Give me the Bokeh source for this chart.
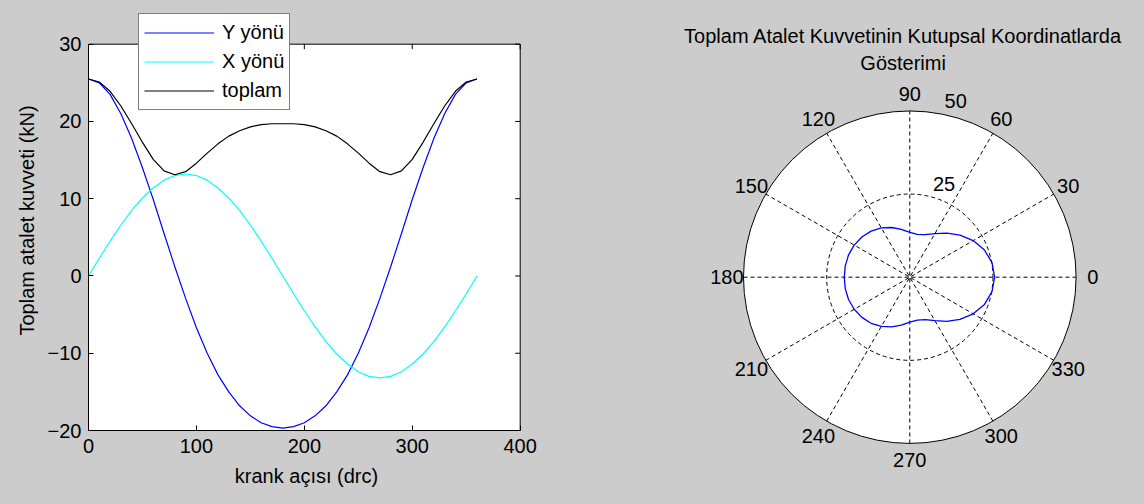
import numpy as np
from bokeh.plotting import figure
from bokeh.models import Range1d, FixedTicker, Legend, LegendItem, ColumnDataSource
from bokeh.layouts import row
from bokeh.embed import file_html
from bokeh.resources import INLINE
from bokeh.core.properties import value

# ---------------- data ----------------
krank_acisi = [0, 10, 20, 30, 40, 50, 60, 70, 80, 90, 100, 110, 120, 130, 140, 150, 160, 170, 180,
               190, 200, 210, 220, 230, 240, 250, 260, 270, 280, 290, 300, 310, 320, 330, 340, 350, 360]
y_yonu = [25.5, 25.0, 23.5, 21.0, 17.8, 14.0, 9.9, 5.5, 1.2, -2.9, -6.7, -10.0, -12.8, -15.0, -16.8, -18.1, -19.0, -19.5, -19.7,
          -19.5, -19.0, -18.1, -16.8, -15.0, -12.8, -10.0, -6.7, -2.9, 1.2, 5.5, 9.9, 14.0, 17.8, 21.0, 23.5, 25.0, 25.5]
x_yonu = [0.0, 2.3, 4.5, 6.6, 8.5, 10.1, 11.4, 12.4, 13.0, 13.2, 13.0, 12.4, 11.4, 10.1, 8.5, 6.6, 4.5, 2.3, 0.0,
          -2.3, -4.5, -6.6, -8.5, -10.1, -11.4, -12.4, -13.0, -13.2, -13.0, -12.4, -11.4, -10.1, -8.5, -6.6, -4.5, -2.3, 0.0]
toplam = [25.5, 25.1, 23.9, 22.0, 19.7, 17.3, 15.1, 13.6, 13.1, 13.5, 14.6, 15.9, 17.1, 18.1, 18.8, 19.3, 19.6, 19.7, 19.7,
          19.7, 19.6, 19.3, 18.8, 18.1, 17.1, 15.9, 14.6, 13.5, 13.1, 13.6, 15.1, 17.3, 19.7, 22.0, 23.9, 25.1, 25.5]

x_ticks = [0, 100, 200, 300, 400]
y_ticks = [-20, -10, 0, 10, 20, 30]
legend_labels = ["Y yönü", "X yönü", "toplam"]

polar_angles = [0, 30, 60, 90, 120, 150, 180, 210, 240, 270, 300, 330]
polar_rings = [25, 50]
x_label = "krank açısı (drc)"
y_label = "Toplam atalet kuvveti (kN)"
title_lines = ["Toplam Atalet Kuvvetinin Kutupsal Koordinatlarda", "Gösterimi"]

# ---------------- style ----------------
GRAY = "#cccccc"
FONT = "Liberation Sans"
FS = "20px"

x0, x1 = min(x_ticks), max(x_ticks)
y0, y1 = min(y_ticks), max(y_ticks)

# ---------------- left: cartesian ----------------
# the frame reaches a little above/right of the axes box so the legend can overlap the box top
p1 = figure(width=560, height=504, x_range=Range1d(x0, 404), y_range=Range1d(y0, 34.36),
            output_backend="svg", toolbar_location=None, frame_align=False,
            min_border_left=88, min_border_right=36, min_border_top=10, min_border_bottom=74,
            background_fill_color=GRAY, border_fill_color=GRAY, outline_line_color=None)
p1.grid.visible = False

# white axes box with black outline
p1.quad(left=[x0], right=[x1], bottom=[y0], top=[y1], fill_color="white", line_color="black", line_width=1)

for ax in (p1.xaxis[0], p1.yaxis[0]):
    ax.major_tick_in = 5
    ax.major_tick_out = 0
    ax.minor_tick_in = 0
    ax.minor_tick_out = 0
    ax.axis_line_color = "black"
    ax.major_tick_line_color = "black"
    ax.major_label_text_font = FONT
    ax.major_label_text_font_size = FS
    ax.major_label_text_color = "black"
    ax.axis_label_text_font = FONT
    ax.axis_label_text_font_size = FS
    ax.axis_label_text_font_style = "normal"
    ax.axis_label_text_color = "black"

p1.xaxis[0].ticker = FixedTicker(ticks=x_ticks)
p1.yaxis[0].ticker = FixedTicker(ticks=y_ticks)
p1.xaxis[0].bounds = (x0, x1)
p1.yaxis[0].bounds = (y0, y1)
p1.xaxis[0].axis_label = x_label
p1.yaxis[0].axis_label = y_label
p1.xaxis[0].major_label_standoff = 8
p1.xaxis[0].axis_label_standoff = 9
p1.yaxis[0].major_label_standoff = 7
p1.yaxis[0].axis_label_standoff = 7

# inward ticks on the top and right edges of the box
p1.ray(x=x_ticks, y=[y1] * len(x_ticks), length=5, length_units="screen",
       angle=-np.pi / 2, line_color="black", line_width=1)
p1.ray(x=[x1] * len(y_ticks), y=y_ticks, length=5, length_units="screen",
       angle=np.pi, line_color="black", line_width=1)

src = ColumnDataSource(dict(a=krank_acisi, y=y_yonu, x=x_yonu, t=toplam))
r_y = p1.line("a", "y", source=src, line_color="#0000ff", line_width=1.2)
r_x = p1.line("a", "x", source=src, line_color="#00ffff", line_width=1.2)
r_t = p1.line("a", "t", source=src, line_color="black", line_width=1.2)

legend = Legend(items=[LegendItem(label=legend_labels[0], renderers=[r_y]),
                       LegendItem(label=legend_labels[1], renderers=[r_x]),
                       LegendItem(label=legend_labels[2], renderers=[r_t])],
                location=(50, 320), orientation="vertical",
                label_text_font=FONT, label_text_font_size=FS, label_text_color="black",
                glyph_width=70, glyph_height=27, label_height=27, label_standoff=8,
                spacing=2, padding=5, margin=0,
                background_fill_color="white", background_fill_alpha=1.0,
                border_line_color="black", border_line_width=1)
p1.add_layout(legend, "center")

# ---------------- right: polar ----------------
p2 = figure(width=584, height=504, x_range=Range1d(-105.02, 70.57), y_range=Range1d(-68.34, 83.19),
            output_backend="svg", toolbar_location=None, frame_align=False,
            x_axis_location=None, y_axis_location=None,
            min_border=0, min_border_left=0, min_border_right=0, min_border_top=0, min_border_bottom=0,
            background_fill_color=GRAY, border_fill_color=GRAY, outline_line_color=None)
p2.grid.visible = False

rmax = max(polar_rings)
p2.circle(x=[0], y=[0], radius=rmax, fill_color="white", line_color=None)

ang = np.radians(np.array(polar_angles[:6], dtype=float))
p2.segment(x0=-rmax * np.cos(ang), y0=-rmax * np.sin(ang), x1=rmax * np.cos(ang), y1=rmax * np.sin(ang),
           line_color="black", line_width=1, line_dash="4 3")
p2.circle(x=[0], y=[0], radius=polar_rings[0], fill_color=None, line_color="black",
          line_width=1, line_dash="4 3")
p2.circle(x=[0], y=[0], radius=rmax, fill_color=None, line_color="black", line_width=1)

# polar data curve
th = np.radians(np.array(krank_acisi, dtype=float))
rr = np.array(toplam, dtype=float)
p2.line(x=rr * np.cos(th), y=rr * np.sin(th), line_color="#0000ff", line_width=1.3)

# angle labels
aa = np.radians(np.array(polar_angles, dtype=float))
p2.text(x=1.1 * rmax * np.cos(aa), y=1.1 * rmax * np.sin(aa), text=[str(a) for a in polar_angles],
        text_font=value(FONT), text_font_size=FS, text_color="black",
        text_align="center", text_baseline="middle")

# ring labels
rl = np.array(polar_rings, dtype=float) + polar_rings[0] / 20.0
a82 = np.radians(82.0)
p2.text(x=rl * np.cos(a82), y=rl * np.sin(a82), text=[str(r) for r in polar_rings],
        text_font=value(FONT), text_font_size=FS, text_color="black",
        text_align="left", text_baseline="bottom", x_offset=11)

# title (two lines, above the polar axes)
p2.text(x=[-2.0, -2.0], y=[72.5, 64.5], text=title_lines,
        text_font=value(FONT), text_font_size=FS, text_color="black",
        text_align="center", text_baseline="middle")

layout = row(p1, p2)
html = file_html(layout, INLINE, title="Toplam atalet kuvveti")
html = html.replace("<head>", "<head><style>html, body { background: #cccccc; }</style>", 1)
open("out.html", "w").write(html)
